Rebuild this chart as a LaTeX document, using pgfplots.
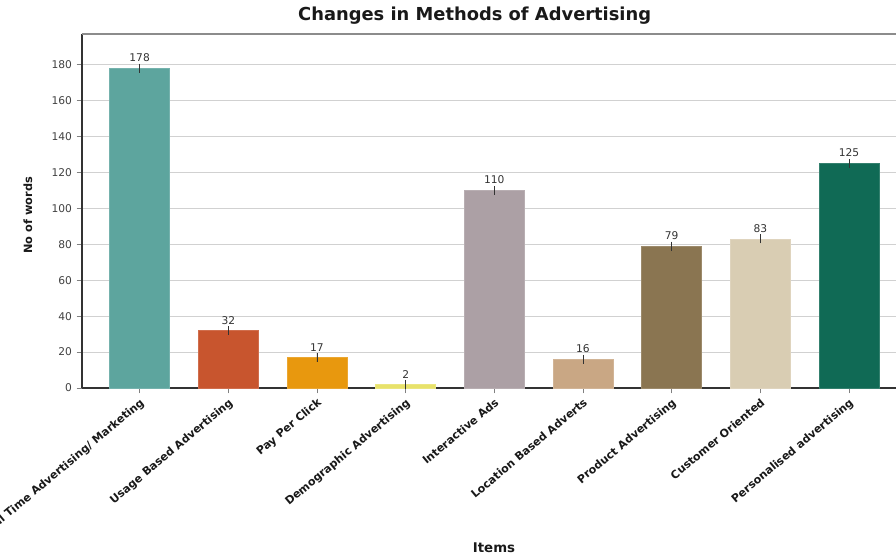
\documentclass[border=0pt]{standalone}
\usepackage{pgfplots}
\pgfplotsset{compat=1.18}
\usepackage{fontspec}
\setmainfont{DejaVu Sans}
\definecolor{c1}{HTML}{5DA59E}
\definecolor{c2}{HTML}{C8552E}
\definecolor{c3}{HTML}{E8980E}
\definecolor{c4}{HTML}{E8E26A}
\definecolor{c5}{HTML}{ACA0A5}
\definecolor{c6}{HTML}{C9A784}
\definecolor{c7}{HTML}{8A7551}
\definecolor{c8}{HTML}{D9CDB3}
\definecolor{c9}{HTML}{106A55}
\begin{document}
\begin{tikzpicture}
\useasboundingbox (0,0) rectangle (672pt,418.5pt);
\clip (0,0) rectangle (672pt,418.5pt);
\begin{axis}[
  at={(61.5pt,127.5pt)}, anchor=south west,
  scale only axis, width=610.5pt, height=265.5pt,
  xmin=-0.65, xmax=8.53, ymin=0, ymax=197,
  axis x line*=bottom, axis y line*=left,
  axis line style={black!80, line width=1.1pt},
  ytick={0,20,...,180},
  xtick={0,...,8},
  xticklabels={Real Time Advertising/ Marketing, Usage Based Advertising, Pay Per Click, Demographic Advertising, Interactive Ads, Location Based Adverts, Product Advertising, Customer Oriented, Personalised advertising},
  xticklabel style={rotate=40, anchor=north east, font=\bfseries\fontsize{8.3}{9}\selectfont, text=black!90, inner sep=2pt},
  yticklabel style={font=\fontsize{8}{9}\selectfont, text=black!75},
  /pgf/number format/assume math mode=true,
  ymajorgrids, grid style={black!18, line width=0.8pt},
  tick style={black!50, line width=0.6pt}, major tick length=4pt, tick align=outside,
  ybar, bar width=45pt, bar shift=0pt,
  nodes near coords,
  nodes near coords style={font=\fontsize{8}{9}\selectfont, text=black!80, anchor=south, inner sep=1pt, yshift=3.5pt},
  error bars/y dir=both, error bars/y explicit, error bars/error mark=none,
  error bars/error bar style={black!80, line width=0.6pt},
  clip=false,
]
\addplot[fill=c1, draw=c1!85!white] coordinates {(0,178) +- (0,2.5)};
\addplot[fill=c2, draw=c2!85!white] coordinates {(1,32) +- (0,2.5)};
\addplot[fill=c3, draw=c3!85!white] coordinates {(2,17) +- (0,2.5)};
\addplot[fill=c4, draw=c4!85!white] coordinates {(3,2) +- (0,2.5)};
\addplot[fill=c5, draw=c5!85!white] coordinates {(4,110) +- (0,2.5)};
\addplot[fill=c6, draw=c6!85!white] coordinates {(5,16) +- (0,2.5)};
\addplot[fill=c7, draw=c7!85!white] coordinates {(6,79) +- (0,2.5)};
\addplot[fill=c8, draw=c8!85!white] coordinates {(7,83) +- (0,2.5)};
\addplot[fill=c9, draw=c9!85!white] coordinates {(8,125) +- (0,2.5)};
\draw[black!45, line width=1.6pt] (rel axis cs:0,1) -- (rel axis cs:1,1);
\end{axis}
\node[font=\bfseries\fontsize{13.4}{15}\selectfont, text=black!90] at (356pt,406.5pt) {Changes in Methods of Advertising};
\node[font=\bfseries\fontsize{8.5}{10}\selectfont, text=black!90, rotate=90] at (21pt,257pt) {No of words};
\node[font=\bfseries\fontsize{10}{11}\selectfont, text=black!90] at (370.5pt,7.5pt) {Items};
\end{tikzpicture}
\end{document}
